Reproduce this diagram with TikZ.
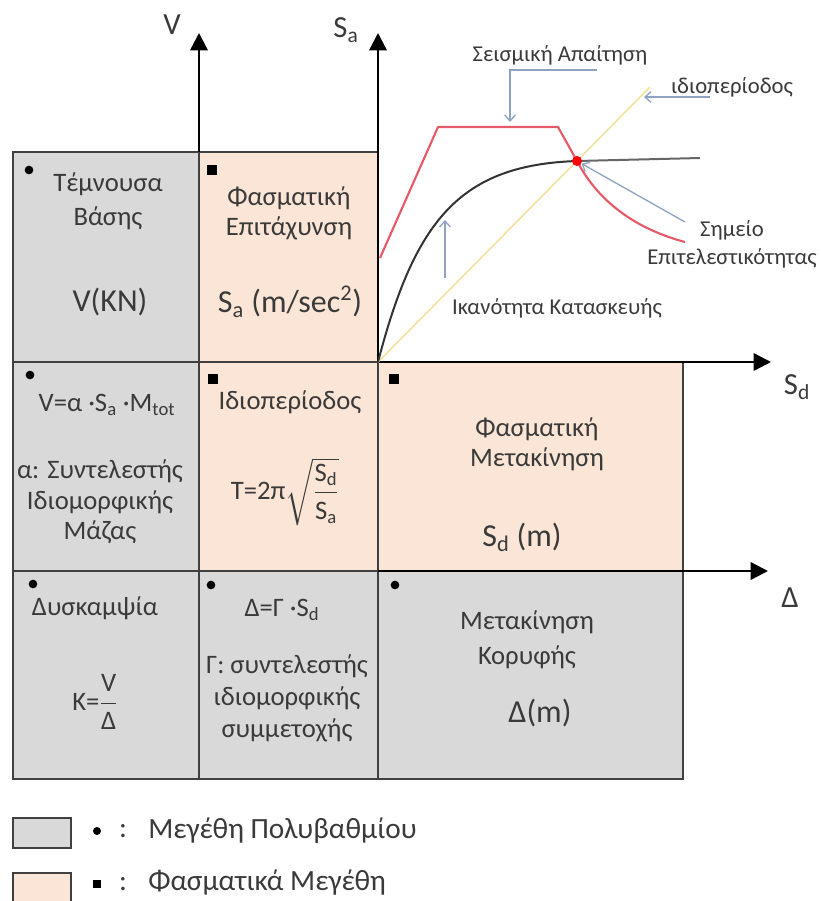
\documentclass[tikz,border=0pt]{standalone}
\usepackage{amsmath}
\usepackage{fontspec}
\setmainfont{Carlito}
\usetikzlibrary{arrows.meta}
\definecolor{cellgray}{HTML}{D9D9D9}
\definecolor{cellpeach}{HTML}{FBE5D6}
\definecolor{txt}{HTML}{3A3A3A}
\definecolor{gridc}{HTML}{404040}
\definecolor{demand}{HTML}{E65A68}
\definecolor{capac}{HTML}{333333}
\definecolor{tline}{HTML}{F2E2A0}
\definecolor{annot}{HTML}{8FA3C0}
\begin{document}
\begin{tikzpicture}[x=0.75pt,y=-0.75pt,
  cellg/.style={fill=cellgray,draw=gridc,line width=1.1pt},
  cellp/.style={fill=cellpeach,draw=gridc,line width=1.1pt},
  ctext/.style={text=txt,font=\fontsize{20}{24}\selectfont,align=center,inner sep=0pt},
  bigtext/.style={text=txt,font=\fontsize{24}{28}\selectfont,inner sep=0pt},
  axlab/.style={text=txt,font=\fontsize{23}{27}\selectfont,inner sep=0pt},
  anno/.style={text=txt,font=\fontsize{17}{21}\selectfont,align=center,inner sep=0pt},
  legtext/.style={text=txt,font=\fontsize{22}{26}\selectfont,inner sep=0pt},
  axisarrow/.style={line width=1.8pt,-{Triangle[length=13pt,width=13pt]}},
  annarrow/.style={draw=annot,line width=1pt,-{Straight Barb[length=4.5pt,width=8pt]}},
  gdot/.style={circle,fill=black,inner sep=0pt,minimum size=6.5pt},
  psq/.style={rectangle,fill=black,inner sep=0pt,minimum size=7pt},
  ldot/.style={circle,fill=black,inner sep=0pt,minimum size=6pt},
  lsq/.style={rectangle,fill=black,inner sep=0pt,minimum size=6.5pt}
]
\useasboundingbox (0,0) rectangle (822,901);

% cells
\path[cellg] (13,152) rectangle (199,362);
\path[cellp] (199,152) rectangle (378,362);
\path[cellg] (13,362) rectangle (199,571);
\path[cellp] (199,362) rectangle (378,571);
\path[cellp] (378,362) rectangle (683,571);
\path[cellg] (13,571) rectangle (199,779);
\path[cellg] (199,571) rectangle (378,779);
\path[cellg] (378,571) rectangle (683,779);

% axes
\coordinate (O) at (378,362);
\coordinate (Vbase) at (199,152);
\coordinate (Vtip) at (199,33);
\coordinate (Satip) at (378,33);
\coordinate (Sdtip) at (771,362);
\coordinate (Dbase) at (378,571);
\coordinate (Dtip) at (768,571);
\draw[axisarrow] (Vbase) -- (Vtip);
\draw[axisarrow] (O) -- (Satip);
\draw[axisarrow] (O) -- (Sdtip);
\draw[axisarrow] (Dbase) -- (Dtip);

\node[axlab] (lV) at (172,25) {V};
\node[axlab] (lSa) at (346,30) {S\textsubscript{a}};
\node[axlab] (lSd) at (797,387) {S\textsubscript{d}};
\node[axlab] (lD) at (790,598) {Δ};

% curves
\coordinate (Y1) at (650,87);
\draw[tline,line width=1.2pt] (O) -- (Y1);
\coordinate (R0) at (380,258);
\coordinate (R1) at (438,127);
\coordinate (R2) at (558,127);
\coordinate (R3) at (685,242);
\coordinate (C1) at (700,158);
\draw[capac,line width=1.5pt] (O) .. controls (415,220) and (460,165) .. (577,161);
\draw[gridc!80,line width=1.5pt] (577,161) -- (C1);
\draw[demand,line width=1.6pt,line join=round] (R0) -- (R1) -- (R2) -- (577,161) .. controls (600,205) and (640,230) .. (R3);
\node[circle,fill=red,inner sep=0pt,minimum size=7.5pt] (P) at (577,161) {};

% annotations
\node[anno] (tdem) at (560,55) {Σεισμική Απαίτηση};
\node[anno] (tper) at (732,87) {ιδιοπερίοδος};
\node[anno,font=\fontsize{17}{21}\selectfont] (tpp) at (732,244) {Σημείο\\Επιτελεστικότητας};
\node[anno] (tcap) at (557,308) {Ικανότητα Κατασκευής};
\coordinate (a1s) at (597,70);
\coordinate (a1m) at (510,70);
\coordinate (a1e) at (510,122);
\draw[annarrow] (a1s) -- (a1m) -- (a1e);
\coordinate (a2s) at (710,97);
\coordinate (a2e) at (644,97);
\draw[annarrow] (a2s) -- (a2e);
\coordinate (a3s) at (685,222);
\draw[annarrow] (a3s) -- (P);
\coordinate (a4s) at (445,278);
\coordinate (a4e) at (445,220);
\draw[annarrow] (a4s) -- (a4e);

% markers
\node[gdot] (m11) at (29,170) {};
\node[psq] (m12) at (212,170) {};
\node[gdot] (m21) at (30,375) {};
\node[psq] (m22) at (213,379) {};
\node[psq] (m23) at (394,379) {};
\node[gdot] (m31) at (33,584) {};
\node[gdot] (m32) at (211,585) {};
\node[gdot] (m33) at (395,585) {};

% cell texts
\node[ctext,font=\fontsize{20}{25.5}\selectfont] (t11) at (108,201) {Τέμνουσα\\Βάσης};
\node[bigtext] (t11b) at (110,302) {V(KN)};
\node[ctext,font=\fontsize{20}{22.5}\selectfont] (t12) at (289,213) {Φασματική\\Επιτάχυνση};
\node[bigtext] (t12b) at (290,302) {S\textsubscript{a} (m/sec\textsuperscript{2})};

\node[ctext] (t21) at (107,405) {V=α ·S\textsubscript{a} ·M\textsubscript{tot}};
\node[ctext,font=\fontsize{20}{23}\selectfont] (t21b) at (100,502) {α: Συντελεστής\\Ιδιομορφικής\\Μάζας};
\node[ctext] (t22) at (290,402) {Ιδιοπερίοδος};
\node[ctext] (t22b) at (285,492) {T=2π$\sqrt{\dfrac{\mbox{S\textsubscript{d}}\rule[-3pt]{0pt}{0pt}}{\mbox{S\textsubscript{a}}\rule{0pt}{17pt}}}$};
\node[ctext,font=\fontsize{20}{22.5}\selectfont] (t23) at (537,444) {Φασματική\\Μετακίνηση};
\node[bigtext] (t23b) at (522,537) {S\textsubscript{d} (m)};

\node[ctext] (t31) at (95,608) {Δυσκαμψία};
\node[ctext] (t31b) at (95,702) {K=$\dfrac{\mbox{V}}{\mbox{Δ}}$};
\node[ctext] (t32) at (282,610) {Δ=Γ ·S\textsubscript{d}};
\node[ctext,font=\fontsize{20}{24}\selectfont] (t32b) at (287,698) {Γ: συντελεστής\\ιδιομορφικής\\συμμετοχής};
\node[ctext,font=\fontsize{20}{26}\selectfont] (t33) at (527,640) {Μετακίνηση\\Κορυφής};
\node[bigtext] (t33b) at (540,713) {Δ(m)};

% legend
\path[cellg,line width=0.9pt] (13,818) rectangle (71,848);
\path[cellp,line width=0.9pt] (13,873) rectangle (71,903);
\node[ldot] (l1d) at (97,831) {};
\node[legtext] (l1c) at (123,831) {:};
\node[legtext,anchor=west] (l1t) at (148,831) {Μεγέθη Πολυβαθμίου};
\node[lsq] (l2d) at (97,884) {};
\node[legtext] (l2c) at (123,884) {:};
\node[legtext,anchor=west] (l2t) at (148,883) {Φασματικά Μεγέθη};
\end{tikzpicture}
\end{document}
